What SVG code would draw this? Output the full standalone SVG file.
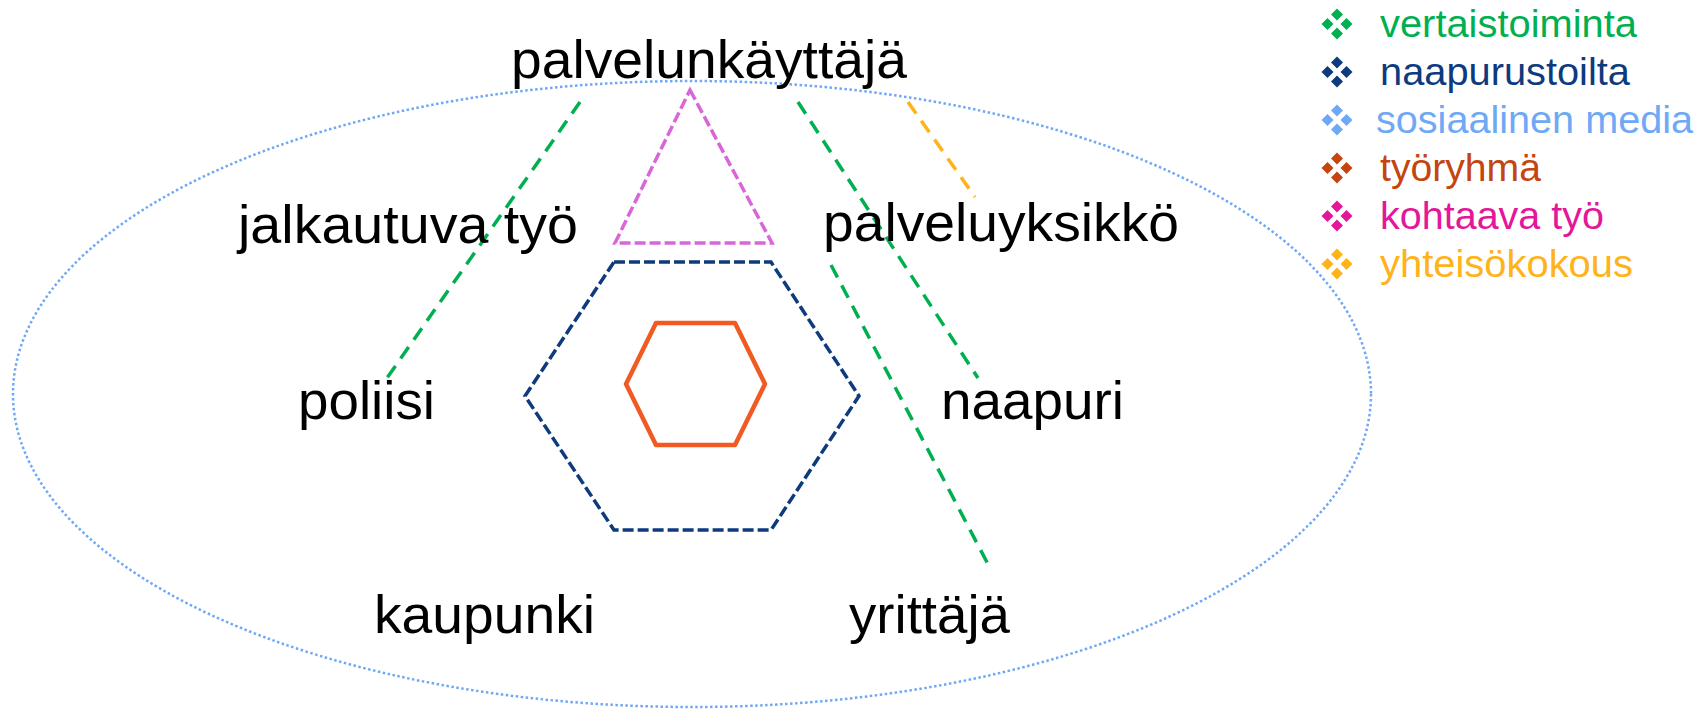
<svg xmlns="http://www.w3.org/2000/svg" width="1700" height="709" viewBox="0 0 1700 709">
<defs>
<style>
text{font-family:"Liberation Sans",Arial,sans-serif;}
.lbl{font-size:53px;fill:#000;}
.leg{font-size:38px;}
.green{stroke:#00B050;stroke-width:3.5;stroke-dasharray:14 9;fill:none;}
.yellow{stroke:#FFB31A;stroke-width:3.5;stroke-dasharray:14 9;fill:none;}
</style>
<g id="bullet">
<polygon points="0,-15.5 6,-9.5 0,-3.5 -6,-9.5"/>
<polygon points="0,15.5 6,9.5 0,3.5 -6,9.5"/>
<polygon points="-15.5,0 -9.5,6 -3.5,0 -9.5,-6"/>
<polygon points="15.5,0 9.5,6 3.5,0 9.5,-6"/>
</g>
</defs>
<rect width="1700" height="709" fill="#fff"/>
<g id="ellipse">
<ellipse cx="692" cy="394" rx="679" ry="313" fill="none" stroke="#6FA8F5" stroke-width="2.5" stroke-dasharray="2.5 2.5"/>
</g>
<g id="triangle">
<polygon points="690,90 772,243 615,243" fill="none" stroke="#D966D9" stroke-width="3.5" stroke-dasharray="11 4" stroke-linejoin="miter"/>
</g>
<g id="hexagon-outer">
<polygon points="614,262 771,262 859,396 771,530 614,530 525,396" fill="none" stroke="#0E3A7E" stroke-width="3.5" stroke-dasharray="11 4"/>
</g>
<g id="hexagon-inner">
<polygon points="656,323 735,323 765,384 735,445 656,445 626,384" fill="none" stroke="#F15A22" stroke-width="4.5" stroke-linejoin="round"/>
</g>
<g id="connectors">
<line class="green" x1="580" y1="102" x2="387" y2="378"/>
<line class="green" x1="798" y1="102" x2="978" y2="378"/>
<line class="green" x1="831" y1="265" x2="990" y2="568"/>
<line class="yellow" x1="908" y1="102" x2="975" y2="197"/>
</g>
<g id="node-palvelunkayttaja"><text class="lbl" x="511" y="78" textLength="396" lengthAdjust="spacingAndGlyphs">palvelunkäyttäjä</text></g>
<g id="node-jalkautuva"><text class="lbl" x="238" y="243" textLength="340" lengthAdjust="spacingAndGlyphs">jalkautuva työ</text></g>
<g id="node-palveluyksikko"><text class="lbl" x="823" y="241" textLength="356" lengthAdjust="spacingAndGlyphs">palveluyksikkö</text></g>
<g id="node-poliisi"><text class="lbl" x="298" y="419" textLength="137" lengthAdjust="spacingAndGlyphs">poliisi</text></g>
<g id="node-naapuri"><text class="lbl" x="941" y="419" textLength="183" lengthAdjust="spacingAndGlyphs">naapuri</text></g>
<g id="node-kaupunki"><text class="lbl" x="374" y="633" textLength="221" lengthAdjust="spacingAndGlyphs">kaupunki</text></g>
<g id="node-yrittaja"><text class="lbl" x="849" y="633" textLength="161" lengthAdjust="spacingAndGlyphs">yrittäjä</text></g>
<g id="legend">
<use href="#bullet" x="1337" y="24" fill="#00B050"/>
<text class="leg" x="1380" y="37" fill="#00B050" textLength="257" lengthAdjust="spacingAndGlyphs">vertaistoiminta</text>
<use href="#bullet" x="1337" y="72" fill="#0E3A7E"/>
<text class="leg" x="1380" y="85" fill="#0E3A7E" textLength="250" lengthAdjust="spacingAndGlyphs">naapurustoilta</text>
<use href="#bullet" x="1337" y="120" fill="#6FA8F5"/>
<text class="leg" x="1376" y="133" fill="#6FA8F5" textLength="317" lengthAdjust="spacingAndGlyphs">sosiaalinen media</text>
<use href="#bullet" x="1337" y="168" fill="#C4450F"/>
<text class="leg" x="1380" y="181" fill="#C4450F" textLength="161" lengthAdjust="spacingAndGlyphs">työryhmä</text>
<use href="#bullet" x="1337" y="216" fill="#E4169A"/>
<text class="leg" x="1380" y="229" fill="#E4169A" textLength="224" lengthAdjust="spacingAndGlyphs">kohtaava työ</text>
<use href="#bullet" x="1337" y="264" fill="#FFB31A"/>
<text class="leg" x="1380" y="277" fill="#FFB31A" textLength="253" lengthAdjust="spacingAndGlyphs">yhteisökokous</text>
</g>
</svg>
